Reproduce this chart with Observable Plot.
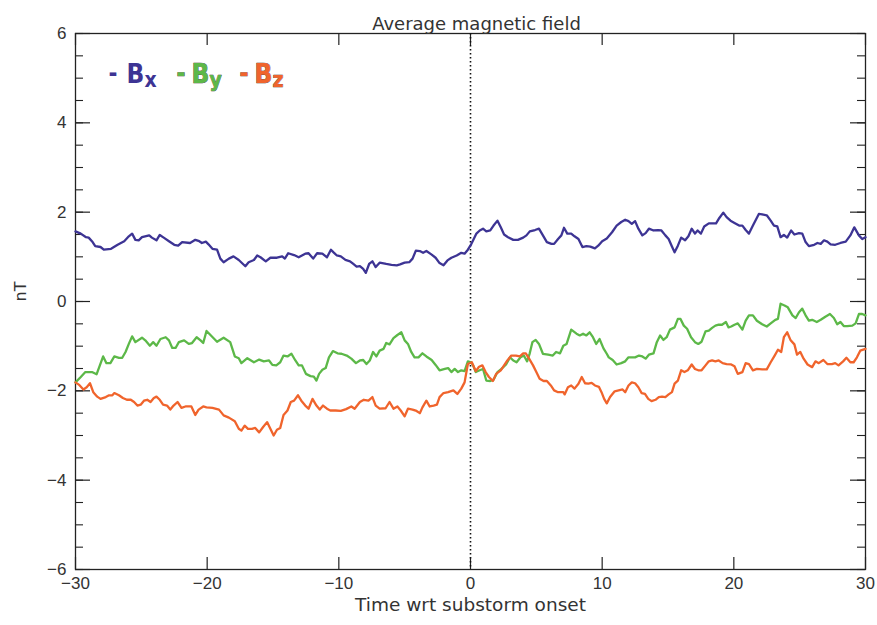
<!DOCTYPE html>
<html>
<head>
<meta charset="utf-8">
<script src="https://cdn.jsdelivr.net/npm/d3@7"></script>
<script src="https://cdn.jsdelivr.net/npm/@observablehq/plot@0.6"></script>
<style>
  html, body { margin: 0; padding: 0; background: #fff; }
  #chart svg { display: block; }
</style>
</head>
<body>
<div id="chart"></div>
<script>
// ---- Data ----
const tBx = [-30,-29.6,-29.2,-29.0,-28.7,-28.5,-28.1,-27.85,-27.3,-26.8,-26.3,-25.95,-25.7,-25.45,-25.2,-24.95,-24.4,-24.2,-23.85,-23.6,-23.3,-22.9,-22.5,-22.2,-21.9,-21.3,-20.9,-20.6,-20.4,-20.1,-19.9,-19.6,-19.25,-19.0,-18.75,-18.35,-18.0,-17.6,-17.1,-16.85,-16.45,-16.2,-15.95,-15.55,-15.2,-14.7,-14.3,-14.1,-13.85,-13.4,-13.05,-12.55,-12.3,-11.95,-11.65,-11.25,-10.9,-10.6,-10.4,-10.15,-9.85,-9.5,-9.15,-8.9,-8.65,-8.4,-8.15,-7.95,-7.7,-7.45,-7.2,-6.9,-6.4,-6.0,-5.6,-5.35,-5.0,-4.65,-4.4,-4.15,-3.85,-3.6,-3.35,-2.95,-2.65,-2.35,-2.05,-1.75,-1.45,-1.05,-0.7,-0.45,-0.2,0.05,0.2,0.45,0.7,0.95,1.2,1.5,1.75,2.05,2.3,2.55,2.85,3.25,3.6,4.0,4.25,4.5,4.9,5.2,5.5,5.8,6.15,6.35,6.65,6.9,7.1,7.35,7.65,7.9,8.2,8.5,8.8,9.1,9.45,9.7,10.0,10.35,10.75,11.1,11.45,11.75,12.0,12.25,12.5,12.75,13.05,13.3,13.55,13.9,14.25,14.5,14.8,15.05,15.3,15.5,15.75,16.0,16.3,16.55,16.8,17.05,17.25,17.5,17.75,18.1,18.35,18.65,18.9,19.2,19.45,19.75,20.05,20.4,20.65,20.9,21.15,21.45,21.9,22.15,22.5,22.8,23.05,23.3,23.55,23.8,24.05,24.35,24.6,24.95,25.2,25.45,25.7,26.1,26.35,26.6,26.85,27.1,27.35,27.7,28.1,28.5,28.85,29.15,29.5,29.75,30.0];
const vBx = [1.57,1.52,1.44,1.43,1.33,1.24,1.22,1.16,1.18,1.27,1.35,1.46,1.52,1.38,1.37,1.44,1.48,1.43,1.37,1.49,1.43,1.35,1.27,1.25,1.33,1.31,1.38,1.35,1.31,1.34,1.28,1.18,1.16,0.96,0.88,0.96,1.01,0.93,0.79,0.88,0.93,1.03,0.99,0.90,0.98,0.98,1.01,0.96,1.08,1.04,0.99,1.07,1.08,0.96,1.08,1.07,0.99,1.16,1.10,1.03,1.01,0.93,0.90,0.84,0.78,0.79,0.73,0.64,0.84,0.90,0.77,0.87,0.84,0.82,0.81,0.83,0.87,0.88,0.96,1.14,1.13,1.09,1.13,1.05,0.98,0.86,0.81,0.92,0.98,1.03,1.09,1.07,1.16,1.28,1.37,1.52,1.59,1.63,1.57,1.59,1.70,1.81,1.66,1.50,1.44,1.38,1.38,1.43,1.48,1.57,1.60,1.63,1.48,1.33,1.29,1.29,1.40,1.48,1.65,1.52,1.52,1.46,1.40,1.22,1.24,1.23,1.19,1.25,1.35,1.41,1.55,1.70,1.78,1.83,1.80,1.74,1.80,1.63,1.48,1.53,1.63,1.59,1.60,1.59,1.48,1.40,1.23,1.10,1.25,1.43,1.37,1.46,1.63,1.52,1.59,1.52,1.68,1.75,1.75,1.75,1.87,1.99,1.89,1.81,1.76,1.70,1.70,1.60,1.52,1.70,1.96,1.95,1.93,1.81,1.70,1.68,1.44,1.49,1.43,1.59,1.50,1.53,1.52,1.33,1.24,1.27,1.31,1.29,1.37,1.34,1.28,1.27,1.31,1.34,1.48,1.66,1.48,1.40,1.44];

const tBy = [-30,-29.6,-29.25,-28.75,-28.4,-28.15,-27.9,-27.65,-27.35,-27.05,-26.7,-26.45,-26.2,-25.95,-25.7,-25.45,-24.95,-24.7,-24.35,-24.1,-23.85,-23.55,-23.15,-22.9,-22.65,-22.4,-22.15,-21.75,-21.4,-21.15,-20.8,-20.5,-20.3,-20.05,-19.75,-19.25,-18.75,-18.25,-17.9,-17.6,-17.4,-16.95,-16.45,-16.05,-15.7,-15.3,-15.05,-14.75,-14.45,-14.2,-13.9,-13.6,-13.3,-13.05,-12.8,-12.5,-12.15,-11.9,-11.7,-11.5,-11.25,-11.0,-10.75,-10.45,-10.1,-9.8,-9.4,-9.05,-8.7,-8.4,-8.15,-7.9,-7.65,-7.4,-7.15,-6.9,-6.6,-6.4,-6.15,-5.85,-5.55,-5.25,-5.0,-4.75,-4.5,-4.25,-3.95,-3.65,-3.35,-2.95,-2.65,-2.35,-1.95,-1.7,-1.45,-1.2,-0.95,-0.7,-0.45,-0.2,0.05,0.2,0.4,0.7,0.95,1.2,1.5,1.75,2.05,2.35,2.7,3.0,3.25,3.5,3.8,4.05,4.3,4.5,4.7,4.95,5.2,5.5,5.9,6.25,6.5,6.8,7.05,7.3,7.65,8.05,8.3,8.55,8.8,9.05,9.3,9.55,9.8,10.1,10.35,10.5,10.8,11.1,11.45,11.75,12.0,12.5,12.8,13.05,13.3,13.55,13.9,14.15,14.4,14.65,14.9,15.15,15.5,15.75,15.95,16.2,16.45,16.75,17.05,17.3,17.55,17.85,18.1,18.35,18.6,18.85,19.1,19.4,19.6,19.8,20.05,20.3,20.65,20.9,21.15,21.45,21.75,22.15,22.5,22.8,23.15,23.35,23.55,23.85,24.1,24.45,24.7,24.95,25.2,25.45,25.7,25.95,26.3,26.6,26.95,27.3,27.6,27.85,28.1,28.35,28.6,29.0,29.25,29.5,29.75,30.0];
const vBy = [-1.81,-1.69,-1.58,-1.58,-1.63,-1.43,-1.23,-1.38,-1.38,-1.23,-1.26,-1.26,-1.13,-0.95,-0.78,-0.91,-0.81,-0.87,-0.99,-0.91,-0.99,-0.84,-0.80,-0.87,-1.04,-1.04,-0.91,-0.87,-0.95,-0.93,-0.80,-0.87,-0.93,-0.66,-0.75,-0.90,-0.81,-0.91,-1.23,-1.27,-1.38,-1.27,-1.36,-1.30,-1.34,-1.32,-1.42,-1.43,-1.36,-1.21,-1.23,-1.17,-1.32,-1.43,-1.43,-1.62,-1.67,-1.68,-1.77,-1.62,-1.53,-1.49,-1.25,-1.11,-1.16,-1.17,-1.21,-1.28,-1.38,-1.32,-1.31,-1.40,-1.32,-1.13,-1.23,-1.10,-1.06,-0.93,-0.96,-0.82,-0.75,-0.69,-0.87,-0.95,-1.13,-1.25,-1.25,-1.16,-1.23,-1.31,-1.42,-1.54,-1.51,-1.49,-1.58,-1.51,-1.58,-1.54,-1.56,-1.34,-1.36,-1.43,-1.58,-1.54,-1.51,-1.77,-1.78,-1.75,-1.58,-1.51,-1.41,-1.25,-1.32,-1.36,-1.25,-1.21,-1.34,-1.16,-0.91,-0.86,-0.95,-1.17,-1.19,-1.21,-1.13,-1.16,-0.99,-0.95,-0.63,-0.72,-0.76,-0.72,-0.76,-0.69,-0.80,-0.95,-0.84,-1.05,-1.17,-1.25,-1.31,-1.41,-1.38,-1.34,-1.25,-1.25,-1.21,-1.23,-1.28,-1.19,-1.16,-0.91,-0.76,-0.86,-0.80,-0.63,-0.58,-0.39,-0.39,-0.54,-0.61,-0.80,-0.91,-0.95,-0.90,-0.67,-0.65,-0.59,-0.54,-0.52,-0.52,-0.46,-0.58,-0.56,-0.52,-0.49,-0.63,-0.43,-0.31,-0.31,-0.43,-0.51,-0.56,-0.49,-0.41,-0.39,-0.05,-0.09,-0.13,-0.31,-0.37,-0.24,-0.16,-0.31,-0.43,-0.41,-0.46,-0.41,-0.34,-0.28,-0.37,-0.51,-0.46,-0.55,-0.55,-0.54,-0.49,-0.28,-0.28,-0.31];

const tBz = [-30,-29.75,-29.4,-29.15,-28.9,-28.65,-28.35,-28.1,-27.7,-27.45,-27.2,-27.05,-26.7,-26.4,-26.1,-25.8,-25.55,-25.3,-25.05,-24.8,-24.55,-24.3,-24.05,-23.85,-23.6,-23.35,-23.05,-22.8,-22.55,-22.25,-21.95,-21.65,-21.2,-20.9,-20.65,-20.3,-20.05,-19.6,-19.1,-18.75,-18.35,-17.9,-17.6,-17.4,-17.15,-16.9,-16.6,-16.35,-16.05,-15.75,-15.45,-15.2,-14.95,-14.7,-14.45,-14.2,-13.9,-13.65,-13.4,-13.1,-12.85,-12.55,-12.3,-12.0,-11.7,-11.45,-11.2,-10.9,-10.65,-10.25,-9.85,-9.45,-9.05,-8.8,-8.4,-8.1,-7.75,-7.45,-7.2,-6.9,-6.45,-6.15,-5.85,-5.55,-5.3,-5.0,-4.75,-4.4,-4.1,-3.85,-3.65,-3.35,-3.1,-2.8,-2.55,-2.35,-2.05,-1.7,-1.3,-1.0,-0.7,-0.45,-0.2,0.1,0.4,0.65,0.9,1.15,1.4,1.7,1.95,2.3,2.55,2.8,3.1,3.45,3.75,4.0,4.2,4.45,4.75,5.0,5.25,5.55,5.8,6.1,6.35,6.65,7.05,7.15,7.4,7.65,7.9,8.2,8.45,8.7,8.95,9.2,9.45,9.75,9.95,10.15,10.35,10.6,10.95,11.25,11.55,11.75,12.0,12.25,12.5,12.75,13.0,13.25,13.5,13.75,14.05,14.3,14.55,14.8,15.05,15.3,15.5,15.75,16.0,16.25,16.5,16.8,17.05,17.3,17.55,17.85,18.1,18.35,18.6,18.85,19.15,19.45,19.8,20.05,20.3,20.65,20.9,21.15,21.45,21.75,22.15,22.5,22.8,23.1,23.35,23.6,23.8,24.05,24.3,24.6,24.8,25.05,25.3,25.6,25.95,26.2,26.45,26.8,27.1,27.45,27.7,27.95,28.3,28.55,28.85,29.1,29.35,29.6,30.0];
const vBz = [-1.81,-1.86,-1.97,-1.92,-1.83,-2.03,-2.13,-2.18,-2.14,-2.10,-2.10,-2.05,-2.10,-2.16,-2.20,-2.20,-2.25,-2.33,-2.31,-2.22,-2.20,-2.25,-2.16,-2.13,-2.20,-2.31,-2.33,-2.42,-2.33,-2.25,-2.38,-2.35,-2.35,-2.54,-2.42,-2.35,-2.37,-2.38,-2.42,-2.55,-2.60,-2.68,-2.85,-2.89,-2.78,-2.85,-2.85,-2.83,-2.93,-2.81,-2.70,-2.85,-3.00,-2.87,-2.83,-2.54,-2.44,-2.25,-2.22,-2.10,-2.22,-2.33,-2.40,-2.18,-2.33,-2.42,-2.33,-2.40,-2.44,-2.44,-2.45,-2.41,-2.35,-2.40,-2.25,-2.20,-2.22,-2.14,-2.33,-2.40,-2.39,-2.25,-2.40,-2.35,-2.44,-2.57,-2.40,-2.42,-2.45,-2.50,-2.37,-2.22,-2.35,-2.33,-2.31,-2.14,-2.05,-2.03,-1.99,-2.07,-1.95,-1.81,-1.40,-1.36,-1.56,-1.46,-1.43,-1.58,-1.69,-1.78,-1.62,-1.54,-1.43,-1.32,-1.21,-1.21,-1.23,-1.16,-1.16,-1.28,-1.43,-1.58,-1.73,-1.78,-1.78,-1.88,-1.99,-2.03,-2.03,-2.08,-1.92,-1.88,-1.95,-1.84,-1.69,-1.83,-1.84,-1.82,-1.88,-1.91,-2.03,-2.18,-2.28,-2.14,-2.01,-1.99,-1.97,-2.03,-1.88,-1.81,-1.83,-1.92,-2.05,-2.07,-2.18,-2.23,-2.20,-2.14,-2.13,-2.14,-2.08,-2.03,-1.84,-1.77,-1.54,-1.58,-1.54,-1.41,-1.51,-1.54,-1.54,-1.43,-1.34,-1.32,-1.34,-1.32,-1.38,-1.40,-1.41,-1.45,-1.62,-1.58,-1.38,-1.40,-1.54,-1.51,-1.52,-1.52,-1.36,-1.21,-1.08,-1.13,-0.80,-0.69,-0.86,-0.96,-1.19,-1.13,-1.28,-1.41,-1.47,-1.34,-1.38,-1.31,-1.40,-1.40,-1.38,-1.43,-1.34,-1.26,-1.36,-1.36,-1.25,-1.10,-1.06];

const xTicks = [-30, -20, -10, 0, 10, 20, 30];
const yTicks = [-6, -4, -2, 0, 2, 4, 6];
const yMinor = [-6,-5.5,-5,-4.5,-4,-3.5,-3,-2.5,-2,-1.5,-1,-0.5,0,0.5,1,1.5,2,2.5,3,3.5,4,4.5,5,5.5,6];

const seriesNames = ["B", "B", "B"];
const seriesSubs = ["x", "y", "z"];
const seriesColors = ["#3d3494", "#5cb848", "#f0642c"];

const title = "Average magnetic field";
const xLabel = "Time wrt substorm onset";
const yLabel = "nT";

// ---- Build ----
const W = 877, H = 625;
const mL = 75, mR = 12, mT = 33, mB = 56;
const fw = W - mL - mR, fh = H - mT - mB;

const mk = (ts, vs) => ts.map((t, i) => ({t, v: vs[i]}));
const dBx = mk(tBx, vBx), dBy = mk(tBy, vBy), dBz = mk(tBz, vBz);

const tickFont = "'Liberation Sans Narrow', 'Liberation Sans', sans-serif";
const labelFont = "'DejaVu Sans', sans-serif";
const legendFont = "'DejaVu Sans Condensed', 'DejaVu Sans', sans-serif";

const legendDash = [33, 101, 164];
const legendB = [51, 116, 179];
const legendSub = [69, 134, 197];

const legendMarks = [];
for (let i = 0; i < 3; i++) {
  const st = i === 0 ? {} : {stroke: "#3a2a1a", strokeWidth: 0.6};
  legendMarks.push(
    Plot.text(["-"], {frameAnchor: "top-left", textAnchor: "start", dx: legendDash[i], dy: 30, fontSize: 24, fontWeight: "bold", fontFamily: legendFont, fill: seriesColors[i], ...st}),
    Plot.text([seriesNames[i]], {frameAnchor: "top-left", textAnchor: "start", dx: legendB[i], dy: 31, fontSize: 26, fontWeight: "bold", fontFamily: legendFont, fill: seriesColors[i], ...st}),
    Plot.text([seriesSubs[i]], {frameAnchor: "top-left", textAnchor: "start", dx: legendSub[i], dy: 39, fontSize: 21, fontWeight: "bold", fontFamily: legendFont, fill: seriesColors[i], ...st})
  );
}

const chart = Plot.plot({
  width: W, height: H,
  marginLeft: mL, marginRight: mR, marginTop: mT, marginBottom: mB,
  style: {background: "#fff", overflow: "visible"},
  x: {domain: [-30, 30], axis: null},
  y: {domain: [-6, 6], axis: null},
  marks: [
    Plot.frame({stroke: "#222", strokeWidth: 1.3}),
    // inward ticks
    Plot.tickX(xTicks, {x: d => d, insetTop: fh - 12, stroke: "#222", strokeWidth: 1.2}),
    Plot.tickX(xTicks, {x: d => d, insetBottom: fh - 12, stroke: "#222", strokeWidth: 1.2}),
    Plot.tickY(yMinor, {y: d => d, insetRight: fw - 8, stroke: "#222", strokeWidth: 1.1}),
    Plot.tickY(yMinor, {y: d => d, insetLeft: fw - 8, stroke: "#222", strokeWidth: 1.1}),
    Plot.tickY(yTicks, {y: d => d, insetRight: fw - 15, stroke: "#222", strokeWidth: 1.2}),
    Plot.tickY(yTicks, {y: d => d, insetLeft: fw - 15, stroke: "#222", strokeWidth: 1.2}),
    // tick labels
    Plot.axisX(xTicks, {tickSize: 0, tickPadding: 7, fontSize: 17, fontFamily: tickFont, fill: "#333", label: null}),
    Plot.axisY(yTicks, {tickSize: 0, tickPadding: 9, fontSize: 17, fontFamily: tickFont, fill: "#333", label: null}),
    // onset line
    Plot.ruleX([0], {stroke: "#111", strokeWidth: 1.6, strokeDasharray: "1.5,2.5"}),
    // series
    Plot.line(dBx, {x: "t", y: "v", stroke: seriesColors[0], strokeWidth: 2.3}),
    Plot.line(dBy, {x: "t", y: "v", stroke: seriesColors[1], strokeWidth: 2.3}),
    Plot.line(dBz, {x: "t", y: "v", stroke: seriesColors[2], strokeWidth: 2.3}),
    // texts
    Plot.text([title], {frameAnchor: "top", dy: -16, dx: 6, fontSize: 18, fontFamily: labelFont, fill: "#333"}),
    Plot.text([xLabel], {frameAnchor: "bottom", dy: 41, fontSize: 18.5, fontFamily: labelFont, fill: "#333"}),
    Plot.text([yLabel], {frameAnchor: "left", dx: -55, rotate: -90, fontSize: 16, fontFamily: labelFont, fill: "#333"}),
    ...legendMarks
  ]
});
document.getElementById("chart").appendChild(chart);
</script>
</body>
</html>
